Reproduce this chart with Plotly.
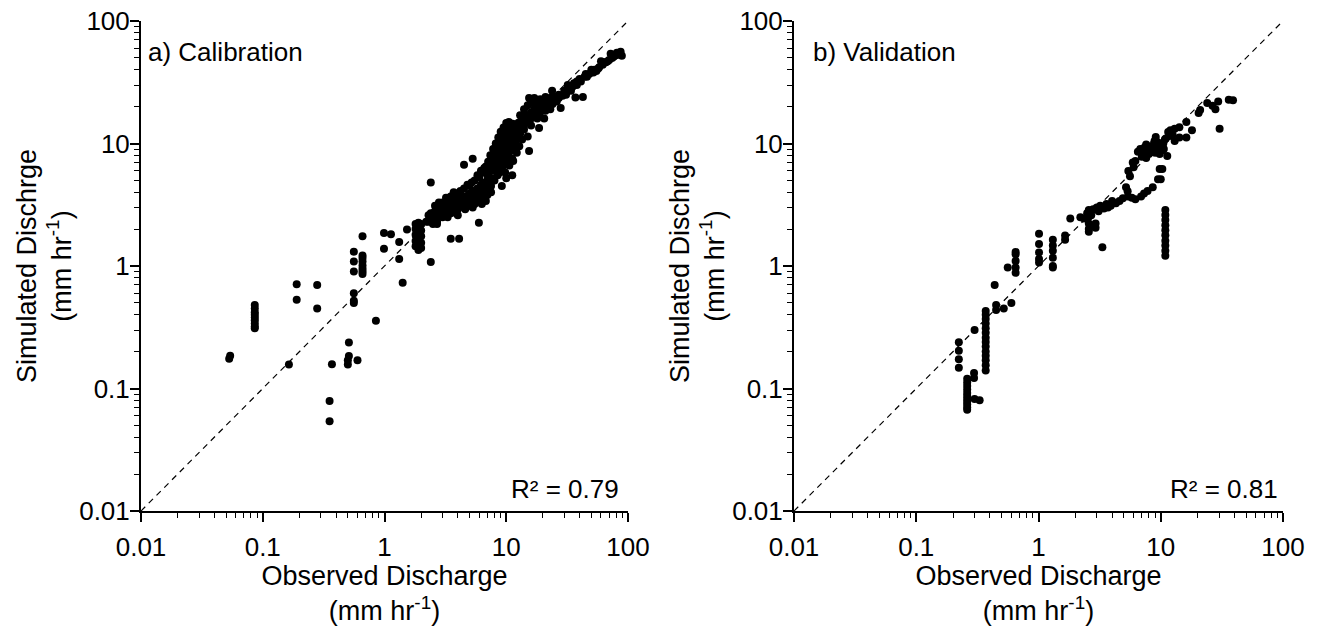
import plotly.graph_objects as go

# ---- data (mm/hr) ----
# a) Calibration
cal_obs = [
    0.053, 0.054,
    0.086, 0.086, 0.086, 0.086, 0.086, 0.086, 0.086, 0.086, 0.086,
    0.19, 0.19, 0.28, 0.28, 0.164,
    0.37, 0.354, 0.354,
    0.51, 0.51, 0.50, 0.50, 0.60,
    0.56, 0.56, 0.56, 0.56, 0.56, 0.56,
    0.66, 0.66, 0.66, 0.66, 0.66, 0.66, 0.66, 0.66,
    0.85,
    0.99, 0.99, 1.13, 1.32, 1.32, 1.41, 1.53,
    1.8, 1.8, 1.8, 1.8, 1.8, 1.9, 1.9, 1.9, 1.9, 1.9, 1.9, 2.0, 2.0, 2.0, 2.0, 2.0,
    2.4, 2.4, 3.5, 4.1, 4.5, 5.3, 5.96,
    2.2, 2.3, 2.4, 2.5, 2.6, 2.7, 2.8, 2.9, 3.0, 3.1, 3.2, 3.3, 3.4, 3.5, 3.6, 3.7, 3.8,
    3.9, 4.0, 4.2, 4.4, 4.6, 4.8, 5.0, 5.2, 5.4, 5.6, 5.8, 6.0, 6.2, 6.4, 6.6, 6.8, 7.0,
    2.6, 3.0, 3.5, 4.0, 4.5, 5.0, 5.5, 6.0, 6.5,
    2.5, 3.0, 3.5, 4.0, 4.5, 5.0, 5.5, 6.0, 6.5, 7.0, 7.5,
    7.0, 7.3, 7.6, 7.9, 8.2, 8.5, 8.8, 9.1, 9.4, 9.7, 10.0, 10.3, 10.6, 11.0, 11.4,
    6.8, 7.1, 7.4, 7.8, 8.2, 8.6, 9.0, 9.5, 10.0, 10.5,
    8.0, 8.5, 9.0, 9.5, 10.0, 10.5, 11.0, 11.5, 12.0, 12.5, 9.2, 10.0, 11.2,
    8.0, 8.5, 9.0, 9.5, 10.0, 10.5, 11.0, 11.5, 12.0, 9.0, 9.5, 10.0, 10.5, 11.0, 12.0, 12.5, 13.0,
    11.2, 15.4, 15.0, 18.6, 20.5,
    13, 14, 15, 16, 17, 18, 19, 20, 21, 22, 23, 24,
    14, 15, 16, 17, 18, 19, 20, 22, 24, 26,
    13, 14, 15, 16, 17, 15.4, 23.8,
    25, 27, 28, 30, 32,
    33, 36, 37, 40, 42.6, 44, 48, 52, 55, 58, 62, 66, 70, 74, 78, 81, 85, 89, 72, 60, 50, 45, 38,
    # denser fill of the main band
    2.3, 2.4, 2.5, 2.6, 2.7, 2.7, 2.8, 2.9, 3.0, 3.0, 3.1, 3.2, 3.3, 3.4, 3.5, 3.6, 3.7, 3.8,
    3.9, 4.0, 4.1, 4.2, 4.3, 4.5, 4.7, 4.9, 5.1, 5.3, 5.5, 5.7, 5.9, 6.1, 6.3, 6.5, 6.7, 6.9,
    7.1, 7.3, 7.5, 7.7,
    3.2, 4.2, 4.8, 5.2, 5.8, 6.2, 6.6, 3.7, 2.8,
    2.7, 3.3, 3.9, 4.6, 5.3, 6.3, 6.8, 4.0,
    7.2, 7.5, 7.7, 7.9, 8.1, 8.3, 8.4, 8.6, 8.7, 8.9, 9.0, 9.2, 9.3, 9.4, 9.6, 9.7, 9.9,
    10.1, 10.2, 10.3, 10.4, 10.6, 10.8, 10.9, 11.1, 11.2, 11.3, 11.6, 11.8, 12.1, 12.3,
    12.6, 12.8, 13.2, 8.8, 9.8, 10.6, 11.4, 12.2, 12.8, 13.5,
    13.5, 14.5, 15.5, 16.5, 17.5, 18.5, 19.5, 20.5, 21.5, 22.5, 23.5, 25, 27, 29, 16, 18,
    21, 14, 17, 19, 21, 13, 23, 26, 31, 34,
    32, 35, 38, 41, 46, 53, 57, 63, 68, 76, 83, 87,
]
cal_sim = [
    0.175, 0.185,
    0.48, 0.45, 0.42, 0.40, 0.38, 0.36, 0.34, 0.32, 0.31,
    0.71, 0.53, 0.70, 0.45, 0.157,
    0.158, 0.079, 0.054,
    0.237, 0.184, 0.17, 0.157, 0.17,
    1.31, 1.09, 0.90, 0.60, 0.52, 0.50,
    1.75, 1.22, 1.16, 1.09, 1.01, 0.95, 0.90, 0.86,
    0.357,
    1.86, 1.38, 1.82, 1.57, 1.14, 0.73, 1.99,
    2.2, 2.0, 1.8, 1.6, 1.45, 2.25, 2.05, 1.85, 1.7, 1.5, 1.35, 2.2, 1.95, 1.75, 1.55, 1.4,
    4.8, 1.08, 1.67, 1.67, 6.7, 7.5, 2.25,
    2.3, 2.6, 2.4, 2.7, 2.5, 2.9, 2.6, 3.0, 2.8, 3.1, 2.9, 3.2, 3.0, 3.3, 3.1, 3.4, 3.2,
    3.6, 3.3, 3.5, 3.4, 3.7, 3.5, 3.9, 3.6, 4.1, 3.8, 4.3, 4.0, 4.6, 4.2, 4.8, 4.4, 5.0,
    3.1, 3.3, 3.7, 3.9, 4.3, 4.5, 5.0, 5.3, 5.8,
    2.2, 2.5, 2.7, 2.9, 3.0, 3.1, 3.2, 3.4, 3.6, 3.8, 4.0,
    5.5, 6.0, 6.5, 7.0, 7.5, 8.0, 8.6, 9.2, 9.8, 10.5, 11.2, 12.0, 12.8, 13.5, 14.0,
    6.5, 7.1, 8.0, 9.0, 10.0, 11.2, 12.5, 13.5, 14.7, 15.0,
    5.0, 5.5, 6.0, 6.6, 7.2, 8.0, 8.8, 9.6, 10.5, 11.5, 4.5, 5.2, 5.5,
    6.0, 6.8, 7.5, 8.3, 9.0, 9.8, 10.8, 11.8, 12.8, 10.5, 11.5, 12.5, 13.5, 14.5, 14.0, 13.5, 12.5,
    7.5, 8.7, 11.4, 13.4, 16.0,
    15, 16, 17, 18, 19, 20, 21, 22, 22.5, 23, 23.5, 24,
    14, 15, 16, 16.5, 17, 18, 19, 20, 21, 22,
    17, 19, 20.5, 22, 23.5, 23.5, 26.9,
    24, 25, 19.5, 27, 28,
    29, 31, 23.7, 33.6, 24, 35, 37, 38, 39, 42, 44, 46, 48, 50, 52, 55, 54, 52, 54, 47, 40, 37, 32,
    # denser fill of the main band
    2.3, 2.7, 2.4, 2.8, 2.3, 2.7, 3.1, 2.7, 3.2, 2.9, 2.7, 3.3, 2.8, 3.4, 3.0, 3.5, 2.9, 3.6,
    3.2, 3.7, 3.1, 3.9, 3.3, 3.6, 3.3, 3.8, 3.4, 4.0, 3.6, 4.1, 3.7, 4.4, 3.9, 4.5, 4.1, 4.7,
    4.3, 4.9, 4.5, 5.2,
    3.6, 4.1, 4.6, 4.8, 5.5, 6.0, 6.3, 4.0, 3.3,
    2.2, 2.5, 2.7, 2.9, 3.0, 3.2, 3.4, 2.6,
    5.8, 6.8, 7.5, 8.3, 9.2, 6.3, 8.8, 7.2, 9.8, 8.0, 11.0, 8.6, 10.0, 7.0, 9.0, 12.0, 10.0,
    8.0, 13.0, 10.5, 7.5, 11.2, 9.0, 13.0, 12.0, 10.0, 14.5, 12.8, 11.0, 13.2, 12.0,
    14.8, 13.0, 14.0, 5.8, 5.8, 6.6, 7.2, 8.4, 9.5, 10.8,
    15.5, 17, 16, 17.5, 19, 18, 19.5, 20.5, 21, 21.5, 22.5, 22.5, 23.5, 24.5, 14, 16,
    18.5, 13, 21, 23, 24, 12, 19, 24, 25, 27,
    30, 29, 30, 32, 35, 40, 41, 46, 47, 51, 53, 56,
]

# b) Validation
val_obs = [
    0.223, 0.223, 0.223, 0.223,
    0.261, 0.261, 0.261, 0.261, 0.261, 0.261, 0.261, 0.261, 0.261, 0.261, 0.261,
    0.297, 0.297, 0.30, 0.30, 0.33,
    0.37, 0.37, 0.37, 0.37, 0.37, 0.37, 0.37, 0.37, 0.37, 0.37, 0.37, 0.37, 0.37, 0.37,
    0.438, 0.45, 0.45, 0.52, 0.60, 0.56,
    0.65, 0.65, 0.65, 0.65, 0.65,
    1.01, 1.01, 1.01, 1.01, 1.01,
    1.31, 1.31, 1.31, 1.31, 1.31, 1.31,
    1.65, 1.65, 1.82,
    2.2, 2.35, 2.5, 2.58, 2.58, 2.58, 2.58, 2.58, 2.7, 2.8, 2.93, 2.93, 3.0, 3.1, 3.2,
    3.33, 3.43, 3.6, 3.9, 4.3, 4.0, 3.7, 4.6,
    4.9, 5.4, 6.2, 6.9, 7.8, 8.6, 9.5, 5.8, 7.3,
    5.36, 5.43, 5.6, 5.9, 6.2, 6.5, 7.2, 7.5,
    7.8, 8.0, 8.3, 8.5, 8.8, 9.1, 9.5, 9.8, 10.3, 11.3, 9.8, 10.3, 10.0, 8.0, 8.7,
    9.2, 10.0, 10.5, 10.8, 11.0, 7.6, 7.0, 7.6,
    11.5, 12.0, 13.0, 14.2, 16.2, 18.0, 16.2, 14.2, 13.0, 12.5, 11.8,
    20.4, 21, 24, 26.5, 29.5, 28, 30.3, 36, 39,
    10.9, 10.9, 10.9, 10.9, 10.9, 10.9, 10.9, 10.9, 10.9, 10.9,
    6.8, 7.4, 8.2, 9.0, 9.6, 10.6, 12.2, 6.0, 5.2, 8.9,
]
val_sim = [
    0.238, 0.203, 0.173, 0.148,
    0.12, 0.112, 0.105, 0.098, 0.092, 0.087, 0.082, 0.078, 0.074, 0.070, 0.067,
    0.134, 0.122, 0.30, 0.082, 0.080,
    0.43, 0.40, 0.37, 0.34, 0.31, 0.285, 0.26, 0.24, 0.22, 0.20, 0.185, 0.17, 0.155, 0.14,
    0.70, 0.48, 0.437, 0.45, 0.50, 0.97,
    1.3, 1.25, 1.1, 0.97, 0.88,
    1.83, 1.51, 1.29, 1.14, 1.07,
    1.64, 1.47, 1.33, 1.17, 1.0, 0.97,
    1.77, 1.64, 2.44,
    2.5, 2.44, 2.7, 2.87, 2.52, 2.22, 2.0, 1.9, 2.6, 2.9, 2.22, 2.05, 3.0, 2.8, 3.1,
    1.42, 2.95, 3.2, 3.1, 3.26, 3.4, 3.0, 3.4,
    3.58, 3.7, 3.5, 3.7, 4.1, 4.4, 5.1, 3.6, 3.9,
    4.08, 5.97, 5.4, 7.0, 7.2, 8.55, 8.7, 8.9,
    9.5, 9.0, 8.5, 9.4, 10.0, 11.3, 10.2, 8.2, 8.8, 7.9, 6.2, 6.2, 5.1, 8.2, 9.0,
    9.5, 9.6, 10.0, 10.8, 11.0, 9.8, 7.8, 7.6,
    12.4, 12.8, 13.2, 13.6, 15.0, 12.8, 11.2, 11.2, 10.5, 11.8, 11.5,
    17.7, 18.8, 21.4, 20.3, 22, 19, 13.2, 22.8, 22.5,
    2.87, 2.61, 2.37, 2.15, 1.96, 1.78, 1.61, 1.47, 1.33, 1.21,
    9.0, 9.3, 8.9, 8.4, 9.2, 9.0, 12.0, 6.4, 4.4, 10.5,
]

one_to_one = [0.01, 100]
tick_vals = [0.01, 0.1, 1, 10, 100]
tick_text = ["0.01", "0.1", "1", "10", "100"]
minor_vals = [m * d for d in [0.01, 0.1, 1, 10] for m in range(2, 10)]

panels = [
    ("a) Calibration", "R² = 0.79", cal_obs, cal_sim),
    ("b) Validation", "R² = 0.81", val_obs, val_sim),
]

FONT = "Liberation Sans, Arial, sans-serif"
fig = go.Figure()

# the page body keeps its default 8px margin, so the figure is 8px smaller
W, H = 1314, 618
x_domains = [[133 / W, 620 / W], [786 / W, 1275 / W]]
y_domain = [(H - 503) / H, (H - 13) / H]

for i, (label, r2, obs, sim) in enumerate(panels):
    n = "" if i == 0 else str(i + 1)
    fig.add_trace(go.Scatter(
        x=one_to_one, y=one_to_one, mode="lines",
        line=dict(color="black", width=1.2, dash="6px,5px"),
        xaxis="x" + n, yaxis="y" + n, showlegend=False, hoverinfo="skip",
    ))
    fig.add_trace(go.Scatter(
        x=obs, y=sim, mode="markers",
        marker=dict(color="black", size=8),
        xaxis="x" + n, yaxis="y" + n, showlegend=False,
    ))

    axis_common = dict(
        type="log", range=[-2, 2], showgrid=False, zeroline=False,
        showline=True, linecolor="black", linewidth=2, automargin=False,
        tickmode="array", tickvals=tick_vals, ticktext=tick_text,
        ticks="outside", ticklen=9, tickwidth=1.5, tickcolor="black",
        tickfont=dict(family=FONT, size=26, color="black"),
        ticklabeloverflow="allow",
        minor=dict(tickmode="array", tickvals=minor_vals, ticks="outside",
                   ticklen=5, tickwidth=1.2, tickcolor="black", showgrid=False),
    )
    fig.update_layout({
        "xaxis" + n: dict(
            axis_common, domain=x_domains[i], anchor="y" + n,
            title=dict(text="Observed Discharge<br>(mm hr<sup>-1</sup>)",
                       font=dict(family=FONT, size=27, color="black"), standoff=2),
            ticklabelstandoff=3,
        ),
        "yaxis" + n: dict(
            axis_common, domain=y_domain, anchor="x" + n,
            title=dict(text="Simulated Dischrge<br>(mm hr<sup>-1</sup>)",
                       font=dict(family=FONT, size=27, color="black"), standoff=0),
            ticklabelstandoff=-5,
        ),
    })
    fig.add_annotation(
        text=label, xref="x" + n + " domain", yref="y" + n + " domain",
        x=0.01 if i == 0 else 0.035, y=0.937, xanchor="left", yanchor="middle",
        showarrow=False, font=dict(family=FONT, size=26, color="black"),
    )
    fig.add_annotation(
        text=r2, xref="x" + n + " domain", yref="y" + n + " domain",
        x=0.986 if i == 0 else 0.994, y=0.045, xanchor="right", yanchor="middle",
        showarrow=False, font=dict(family=FONT, size=26, color="black"),
    )

fig.update_layout(
    width=W, height=H,
    margin=dict(l=0, r=0, t=0, b=0),
    plot_bgcolor="white", paper_bgcolor="white",
    font=dict(family=FONT, color="black"),
)

fig.write_html("out.html")
